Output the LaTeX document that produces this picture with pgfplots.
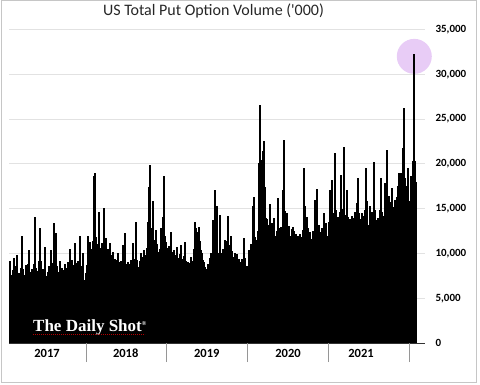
\documentclass[border=0pt]{standalone}
\usepackage{pgfplots}
\pgfplotsset{compat=1.18}
\usepackage{fontspec}
\setmainfont{Carlito}
\newfontfamily\logofont{Liberation Serif}
\definecolor{circ}{RGB}{232,204,246}
\definecolor{gridc}{RGB}{226,226,226}
\definecolor{sepc}{RGB}{150,150,150}
\begin{document}
\begin{tikzpicture}[x=1pt,y=1pt]
\path[use as bounding box] (0,0) rectangle (480,384);
\draw[gray!45, line width=1pt] (1,2) rectangle (476,383);
\node[font=\fontsize{16}{18}\selectfont, text=black!85] at (213.5,373) {US Total Put Option Volume (\textquotesingle 000)};
\begin{axis}[
  at={(9pt,41pt)}, anchor=south west,
  scale only axis, width=416pt, height=313.5pt,
  xmin=9, xmax=425, ymin=0, ymax=35000,
  clip=false,
  axis x line*=bottom, axis y line*=right,
  y axis line style={draw=none},
  x axis line style={black!80, line width=0.8pt},
  ytick={0,5000,...,35000},
  ymajorgrids, grid style={gridc, line width=0.8pt},
  ytick style={draw=none},
  yticklabel pos=right,
  scaled y ticks=false,
  /pgf/number format/assume math mode=true,
  /pgf/number format/1000 sep={,},
  yticklabel style={font=\fontsize{11}{12}\selectfont\bfseries, anchor=west, xshift=7pt},
  xtick={47,125.7,206.8,288,361},
  xticklabels={2017,2018,2019,2020,2021},
  major tick length=0pt,
  xticklabel style={font=\fontsize{12.5}{14}\selectfont\bfseries, anchor=center, yshift=-10pt},
  extra x ticks={86,166,247,328,409},
  extra x tick labels={},
  extra x tick style={tick align=outside, major tick length=19pt, tick style={sepc, line width=0.8pt}},
]
\fill[circ] (axis cs:414.3,32000) circle[radius=17.5pt];
\addplot[ycomb, black, line width=1.05pt, mark=none] coordinates {
(10,9100) (11,7600) (12,7300) (13,8200) (14,9500) (15,7900) (16,8600) (17,9850) (18,7500) (19,7800)
(20,7300) (21,8400) (22,11900) (23,8300) (24,7100) (25,7600) (26,8700) (27,7900) (28,8800) (29,10400)
(30,7900) (31,7400) (32,8300) (33,7500) (34,8800) (35,14100) (36,8400) (37,7400) (38,8000) (39,9100)
(40,12850) (41,9200) (42,7600) (43,8300) (44,7800) (45,10750) (46,7500) (47,7100) (48,7900) (49,8600)
(50,7300) (51,10400) (52,8200) (53,8900) (54,13450) (55,9600) (56,12300) (57,8600) (58,7200) (59,7900)
(60,9100) (61,8000) (62,8400) (63,7500) (64,8200) (65,8800) (66,7900) (67,8400) (68,9000) (69,8100)
(70,10500) (71,8500) (72,9300) (73,8000) (74,8700) (75,11200) (76,8900) (77,8300) (78,9100) (79,8200)
(80,11900) (81,8600) (82,7600) (83,10000) (84,7000) (85,5600)
(86,7800) (87,8700) (88,11900) (89,9200) (90,11300) (91,9600) (92,10500) (93,11400) (94,18600) (95,19000)
(96,11800) (97,10400) (98,11000) (99,14570) (100,10600) (101,9650) (102,11200) (103,10300) (104,15100) (105,10800)
(106,11700) (107,9900) (108,10500) (109,9600) (110,11200) (111,9800) (112,9200) (113,10200) (114,8900) (115,9400)
(116,8700) (117,9300) (118,10050) (119,9000) (120,8600) (121,9200) (122,8500) (123,10950) (124,9100) (125,12250)
(126,8800) (127,8400) (128,9000) (129,8300) (130,8800) (131,9300) (132,8600) (133,11200) (134,9400) (135,8900)
(136,13560) (137,9300) (138,8500) (139,7040) (140,9200) (141,10050) (142,9600) (143,8900) (144,10400) (145,9800)
(146,8700) (147,10600) (148,13560) (149,17470) (150,19900) (151,12800) (152,11200) (153,15800) (154,11500) (155,10800)
(156,12630) (157,11000) (158,10200) (159,8000) (160,10500) (161,12800) (162,11200) (163,14100) (164,18600) (165,12000)
(166,11300) (167,10600) (168,10000) (169,10800) (170,9800) (171,12400) (172,10200) (173,9600) (174,10400) (175,9800)
(176,9300) (177,10700) (178,9500) (179,9100) (180,9900) (181,10950) (182,9400) (183,8900) (184,9700) (185,11300)
(186,9200) (187,8600) (188,9000) (189,8900) (190,8500) (191,9650) (192,8700) (193,9200) (194,10500) (195,13560)
(196,12800) (197,12400) (198,11900) (199,13000) (200,11400) (201,10400) (202,10000) (203,9300) (204,9000) (205,8500)
(206,7400) (207,8300) (208,8800) (209,8200) (210,9500) (211,10050) (212,9400) (213,13750) (214,10500) (215,17030)
(216,11200) (217,15240) (218,9600) (219,10100) (220,14300) (221,10000) (222,9400) (223,10500) (224,9800) (225,11500)
(226,10600) (227,11400) (228,14200) (229,10900) (230,9800) (231,11900) (232,10300) (233,9600) (234,8700) (235,10100)
(236,9500) (237,9900) (238,8600) (239,9400) (240,9000) (241,8500) (242,9400) (243,8700) (244,11700) (245,9500)
(246,7400)
(247,8600) (248,7400) (249,10400) (250,9500) (251,11000) (252,10200) (253,15240) (254,16300) (255,11800) (256,11500)
(257,9840) (258,12500) (259,20100) (260,26600) (261,19500) (262,20460) (263,21390) (264,22500) (265,17470) (266,14000)
(267,13800) (268,12400) (269,13200) (270,15500) (271,12900) (272,13400) (273,12300) (274,13940) (275,12000) (276,11600)
(277,12500) (278,16180) (279,12800) (280,12200) (281,13000) (282,12600) (283,17100) (284,22700) (285,14700) (286,13200)
(287,14500) (288,12300) (289,13100) (290,12000) (291,11900) (292,12700) (293,13000) (294,12500) (295,11600) (296,12200)
(297,11300) (298,12000) (299,11500) (300,12200) (301,10770) (302,11800) (303,12600) (304,19530) (305,15240) (306,12800)
(307,14120) (308,12800) (309,11800) (310,12400) (311,10770) (312,11600) (313,12500) (314,11900) (315,16000) (316,13000)
(317,17180) (318,12700) (319,13200) (320,12400) (321,12100) (322,12800) (323,11700) (324,14500) (325,12500) (326,13400)
(327,12000)
(328,10950) (329,13500) (330,17100) (331,14200) (332,18220) (333,13800) (334,14500) (335,21200) (336,14800) (337,13600)
(338,14100) (339,13200) (340,14600) (341,18780) (342,14000) (343,15000) (344,21880) (345,14300) (346,13500) (347,17100)
(348,14100) (349,13200) (350,13800) (351,13000) (352,14200) (353,13500) (354,13900) (355,14600) (356,13400) (357,15620)
(358,18410) (359,14500) (360,13800) (361,12630) (362,14500) (363,14200) (364,13700) (365,14800) (366,19530) (367,15800)
(368,13200) (369,12260) (370,15240) (371,14100) (372,14600) (373,13800) (374,20160) (375,14900) (376,13750) (377,13200)
(378,14000) (379,12630) (380,14800) (381,18410) (382,14600) (383,13900) (384,14200) (385,17850) (386,15200) (387,21580)
(388,15300) (389,16400) (390,14800) (391,15700) (392,17300) (393,15200) (394,13000) (395,16000) (396,15400) (397,16300)
(398,17500) (399,18970) (400,16800) (401,18970) (402,17200) (403,21770) (404,26240) (405,18400) (406,16920) (407,17500)
(408,19530) (409,15800) (410,10770) (411,18600) (412,17470) (413,20270) (414,32300) (415,20270) (416,18000)
};
\end{axis}
\node[anchor=base west, inner sep=0pt, text=white, font=\logofont\bfseries\fontsize{17}{20}\selectfont] at (33,53) {The Daily Shot\raisebox{5.5pt}{\fontsize{6}{7}\selectfont\textregistered}};
\draw[red!70!black, line width=1.1pt, dash pattern=on 1.2pt off 0.8pt] (33,49.5) -- (145,49.5);
\end{tikzpicture}
\end{document}
